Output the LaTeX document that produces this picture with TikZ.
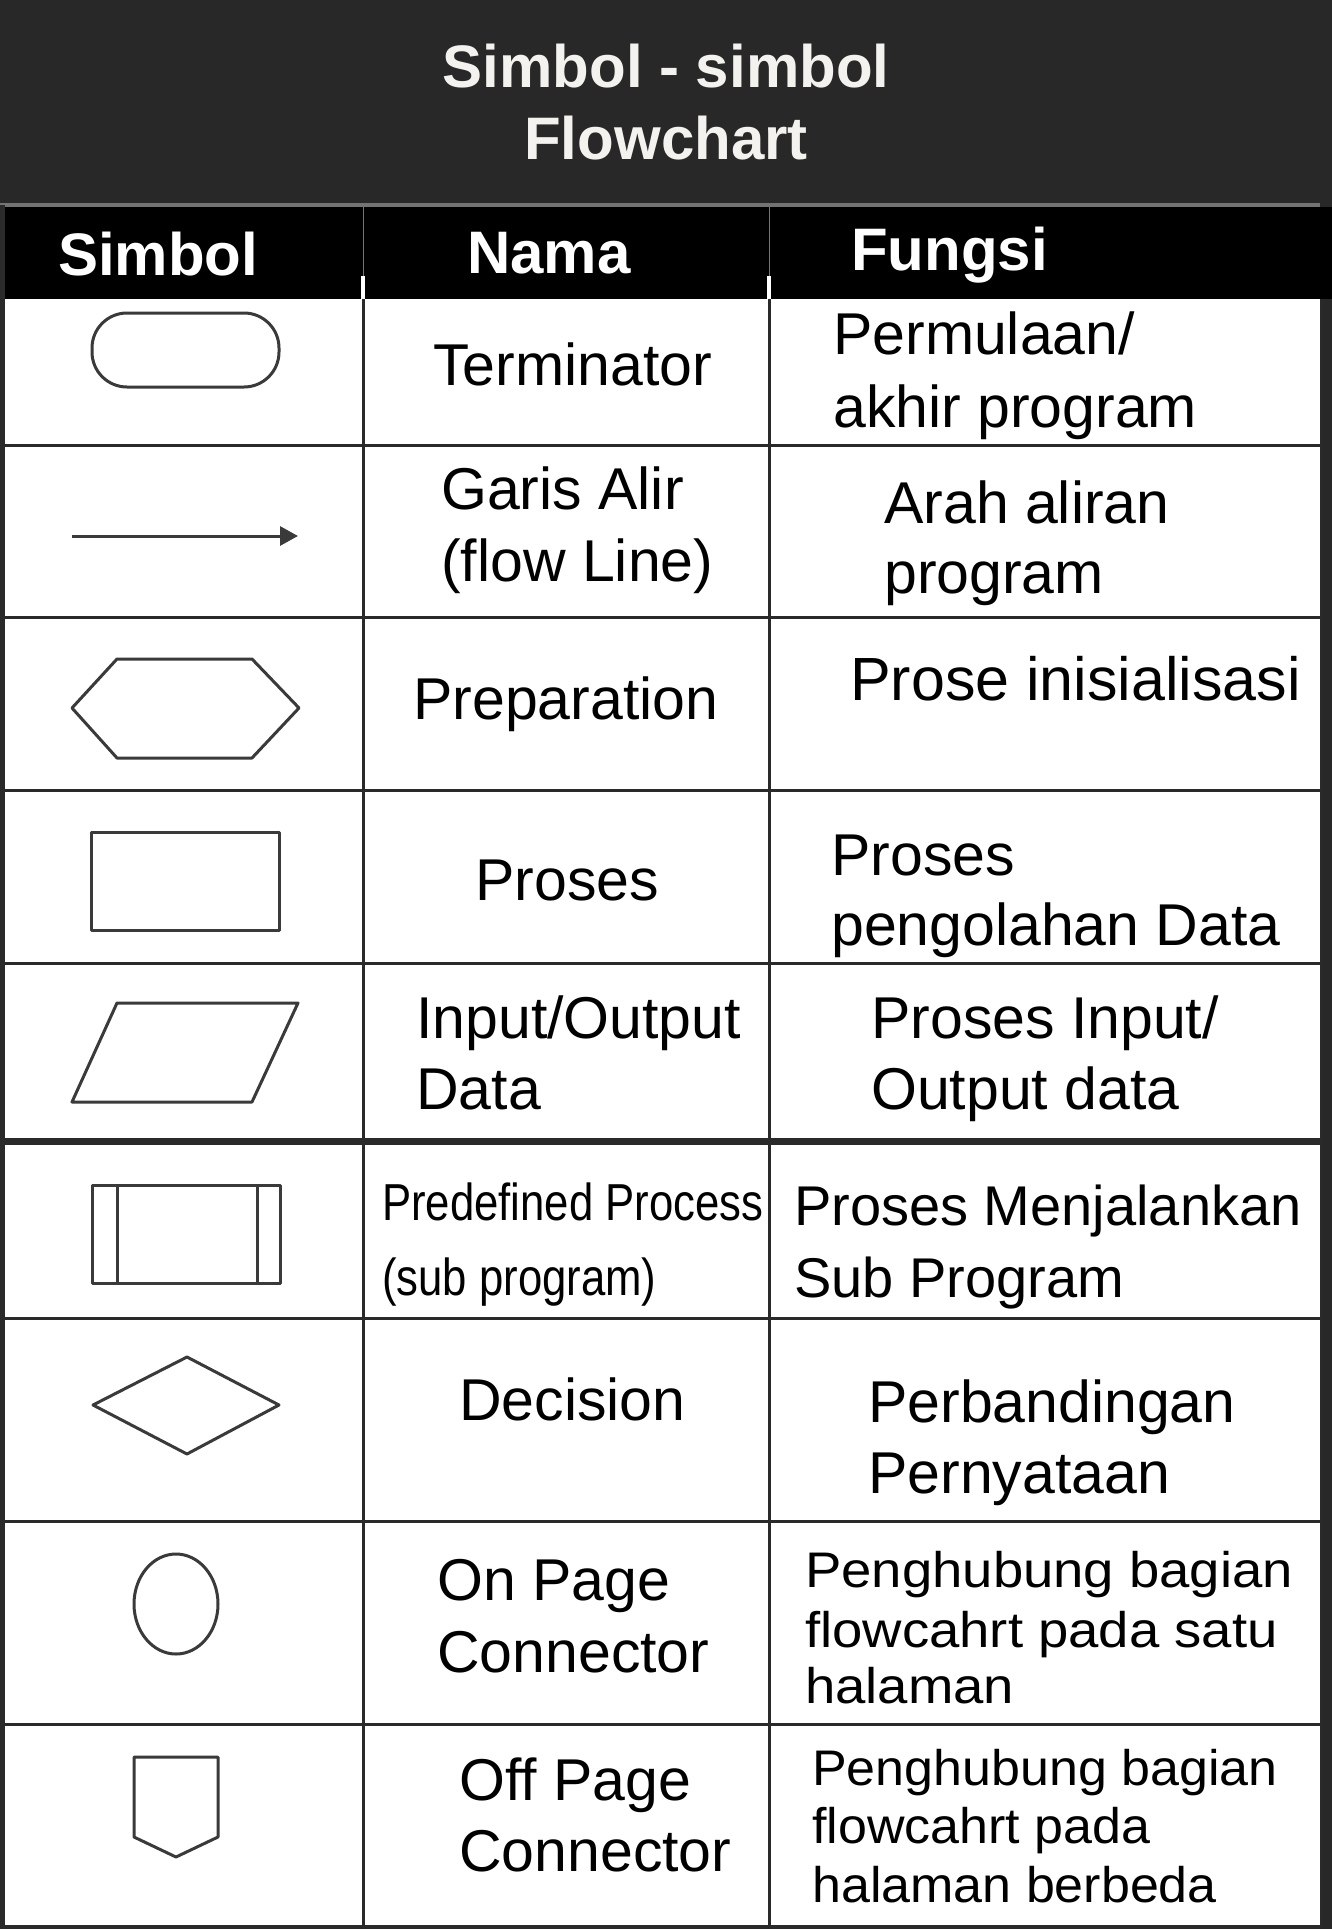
\documentclass[tikz,border=0pt]{standalone}
\usepackage{fontspec}
\setmainfont{Liberation Sans}
\newfontfamily\narrowfont[FakeStretch=0.84]{Liberation Sans}
\newfontfamily\wideAfont[FakeStretch=1.09]{Liberation Sans}
\newfontfamily\wideBfont[FakeStretch=1.04]{Liberation Sans}
\usetikzlibrary{arrows.meta}
\definecolor{titlebg}{HTML}{282828}
\definecolor{titletxt}{HTML}{F4F2EF}
\definecolor{gridcol}{HTML}{2A2A2A}
\definecolor{symcol}{HTML}{3A3A3A}
\begin{document}
\begin{tikzpicture}[x=1pt,y=-1pt,
  gridline/.style={draw=gridcol, line width=3pt},
  symbolshape/.style={draw=symcol, line width=3pt, line join=round},
  titletext/.style={anchor=base, inner sep=0pt, text=titletxt, font=\fontsize{60}{60}\selectfont\bfseries},
  headtext/.style={anchor=base west, inner sep=0pt, text=white, font=\fontsize{60}{60}\selectfont\bfseries},
  celltext/.style={anchor=base west, inner sep=0pt, text=black, font=\fontsize{59}{60}\selectfont},
  narrowtext/.style={anchor=base west, inner sep=0pt, text=black, font=\fontsize{52}{52}\narrowfont},
  wideAtext/.style={anchor=base west, inner sep=0pt, text=black, font=\fontsize{50}{50}\wideAfont},
  wideBtext/.style={anchor=base west, inner sep=0pt, text=black, font=\fontsize{50}{50}\wideBfont}]
\useasboundingbox (0,0) rectangle (1332,1929);
% backgrounds
\fill[titlebg] (0,0) rectangle (1332,1929);
\fill[black] (0,207) rectangle (1332,299);
\fill[white] (5,299) rectangle (1320,1925);
\draw[draw=black!55, line width=3pt] (0,205) -- (1320,205);
% header column separators
\draw[draw=black!55, line width=1pt] (363,207) -- (363,276);
\draw[draw=black!55, line width=1pt] (769,207) -- (769,276);
\draw[draw=white, line width=4pt] (363,276) -- (363,299);
\draw[draw=white, line width=4pt] (769,276) -- (769,299);
% title
\node[titletext] (title1) at (666,88) {Simbol - simbol};
\node[titletext] (title2) at (666,160) {Flowchart};
% header texts
\node[headtext] (hSimbol) at (58,275) {Simbol};
\node[headtext] (hNama) at (467,273) {Nama};
\node[headtext] (hFungsi) at (851,270) {Fungsi};
% grid
\foreach \yy in {445,617,790,963,1318,1521,1724}
  \draw[gridline] (4,\yy) -- (1321,\yy);
\draw[draw=gridcol, line width=7pt] (4,1141) -- (1321,1141);
\draw[gridline] (4,1926) -- (1321,1926);
\draw[gridline] (363,299) -- (363,1926);
\draw[gridline] (769,299) -- (769,1926);
\draw[draw=gridcol, line width=5pt] (2.5,205) -- (2.5,1929);
\draw[gridline] (1321,299) -- (1321,1926);
% symbols
\draw[symbolshape, rounded corners=35pt] (92,313) rectangle (279,387);
\coordinate (arrS) at (72,536);
\coordinate (arrE) at (298,536);
\draw[draw=symcol, line width=3pt, -{Triangle[length=18pt,width=19pt]}] (arrS) -- (arrE);
\draw[symbolshape] (72,708) -- (117,659) -- (252,659) -- (299,708) -- (252,758) -- (117,758) -- cycle;
\draw[symbolshape] (91,832) rectangle (279,930);
\draw[symbolshape] (72,1102) -- (117,1003) -- (298,1003) -- (252,1102) -- cycle;
\draw[symbolshape] (92,1185) rectangle (280,1283);
\draw[symbolshape] (117,1185) -- (117,1283);
\draw[symbolshape] (257,1185) -- (257,1283);
\draw[symbolshape] (93,1405) -- (187,1357) -- (279,1405) -- (187,1454) -- cycle;
\draw[symbolshape] (176,1604) ellipse [x radius=42, y radius=50];
\draw[symbolshape] (134,1757) -- (218,1757) -- (218,1837) -- (176,1857) -- (134,1837) -- cycle;
% row 1
\node[celltext] (n1) at (433,385) {Terminator};
\node[celltext] (f1a) at (833,354) {Permulaan/};
\node[celltext] (f1b) at (833,427) {akhir program};
% row 2
\node[celltext] (n2a) at (441,509) {Garis Alir};
\node[celltext] (n2b) at (441,581) {(flow Line)};
\node[celltext] (f2a) at (884,523) {Arah aliran};
\node[celltext] (f2b) at (884,593) {program};
% row 3
\node[celltext] (n3) at (413,719) {Preparation};
\node[celltext, font=\fontsize{61}{61}\selectfont] (f3) at (850,700) {Prose inisialisasi};
% row 4
\node[celltext] (n4) at (475,900) {Proses};
\node[celltext] (f4a) at (831,875) {Proses};
\node[celltext] (f4b) at (831,945) {pengolahan Data};
% row 5
\node[celltext] (n5a) at (416,1038) {Input/Output};
\node[celltext] (n5b) at (416,1109) {Data};
\node[celltext] (f5a) at (871,1038) {Proses Input/};
\node[celltext] (f5b) at (871,1109) {Output data};
% row 6
\node[narrowtext] (n6a) at (382,1220) {Predefined Process};
\node[narrowtext] (n6b) at (382,1295) {(sub program)};
\node[celltext, font=\fontsize{56}{56}\selectfont] (f6a) at (794,1225) {Proses Menjalankan};
\node[celltext, font=\fontsize{56}{56}\selectfont] (f6b) at (794,1297) {Sub Program};
% row 7
\node[celltext] (n7) at (459,1420) {Decision};
\node[celltext] (f7a) at (868,1422) {Perbandingan};
\node[celltext] (f7b) at (868,1493) {Pernyataan};
% row 8
\node[celltext] (n8a) at (437,1600) {On Page};
\node[celltext] (n8b) at (437,1672) {Connector};
\node[wideAtext] (f8a) at (805,1587) {Penghubung bagian};
\node[wideAtext] (f8b) at (805,1647) {flowcahrt pada satu};
\node[wideAtext] (f8c) at (805,1703) {halaman};
% row 9
\node[celltext] (n9a) at (459,1800) {Off Page};
\node[celltext] (n9b) at (459,1871) {Connector};
\node[wideBtext] (f9a) at (812,1785) {Penghubung bagian};
\node[wideBtext] (f9b) at (812,1843) {flowcahrt pada};
\node[wideBtext] (f9c) at (812,1902) {halaman berbeda};
\end{tikzpicture}
\end{document}
